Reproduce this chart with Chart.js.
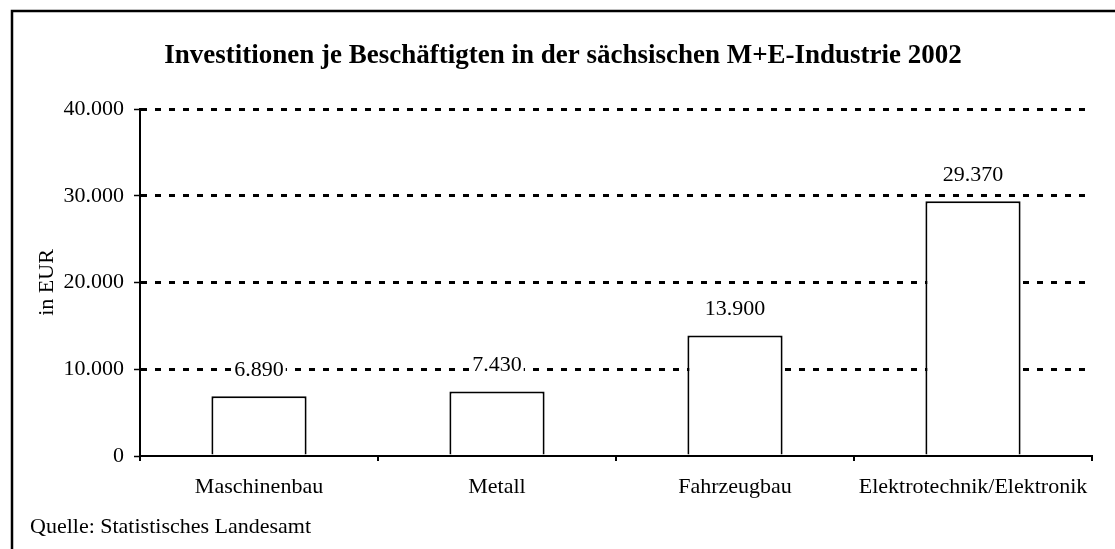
<!DOCTYPE html>
<html>
<head>
<meta charset="utf-8">
<script src="https://cdn.jsdelivr.net/npm/chart.js@4.4.1/dist/chart.umd.min.js"></script>
<style>
  html, body { margin: 0; padding: 0; background: #fff; }
  canvas { display: block; }
</style>
</head>
<body>
<canvas id="invest" width="1115" height="549"></canvas>
<script>
//=============================================== DATA ========================================
var categories = ["Maschinenbau", "Metall", "Fahrzeugbau", "Elektrotechnik/Elektronik"];
var values = [6890, 7430, 13900, 29370];
var yTicks = [0, 10000, 20000, 30000, 40000];
var titleText = "Investitionen je Beschäftigten in der sächsischen M+E-Industrie 2002";
var yAxisTitle = "in EUR";
var sourceText = "Quelle: Statistisches Landesamt";

var serif = "'Liberation Serif', 'Times New Roman', serif";

// 29370 -> "29.370"
function formatNum(n) {
  return String(n).replace(/\B(?=(\d{3})+(?!\d))/g, ".");
}

//=============================================== PLUGINS ========================================
var frame = {
  id: 'frame',
  beforeDraw: function(chart) {
    var ctx = chart.ctx;
    ctx.save();
    ctx.fillStyle = '#fff';
    ctx.fillRect(0, 0, chart.width, chart.height);
    ctx.lineWidth = 2.5;
    ctx.strokeStyle = '#000';
    ctx.strokeRect(12, 11, 1300, 800);
    ctx.restore();
  },
  afterDraw: function(chart) {
    var ctx = chart.ctx;
    ctx.save();
    ctx.fillStyle = '#000';
    ctx.textBaseline = 'middle';
    ctx.textAlign = 'center';
    ctx.font = "bold 27px " + serif;
    ctx.fillText(titleText, 563, 56);
    ctx.textAlign = 'left';
    ctx.font = "22px " + serif;
    ctx.fillText(sourceText, 30, 527);
    ctx.restore();
  }
};

var valueLabels = {
  id: 'valueLabels',
  afterDatasetsDraw: function(chart) {
    var ctx = chart.ctx;
    var meta = chart.getDatasetMeta(0);
    ctx.save();
    ctx.font = "22px " + serif;
    ctx.textAlign = 'center';
    ctx.textBaseline = 'middle';
    meta.data.forEach(function(bar, i) {
      var txt = formatNum(values[i]);
      var w = ctx.measureText(txt).width;
      var y = bar.y - 26;
      ctx.fillStyle = '#fff';
      ctx.fillRect(bar.x - w / 2 - 2, y - 11, w + 4, 22);
      ctx.fillStyle = '#000';
      ctx.fillText(txt, bar.x, y);
    });
    ctx.restore();
  }
};

//=============================================== CHART ========================================
var ctx1 = document.getElementById("invest");
var invest = new Chart(ctx1, {
  type: 'bar',
  data: {
    labels: categories,
    datasets: [{
      label: "Investitionen",
      data: values,
      backgroundColor: "#fff",
      borderColor: "#000",
      borderWidth: 2,
      barPercentage: 0.4,
      categoryPercentage: 1
    }]
  },
  options: {
    responsive: false,
    animation: false,
    devicePixelRatio: 1,
    layout: { padding: { top: 109, left: 30, right: 23, bottom: 43 } },
    plugins: {
      legend: { display: false },
      tooltip: { enabled: false }
    },
    scales: {
      x: {
        afterFit: function(scale) { scale.height = 50; },
        grid: {
          offset: true,
          drawOnChartArea: false,
          color: '#000',
          lineWidth: 2,
          tickLength: 5
        },
        border: { color: '#000', width: 2 },
        ticks: {
          color: '#000',
          padding: 13,
          maxRotation: 0,
          font: { family: serif, size: 22 }
        }
      },
      y: {
        min: 0,
        max: 40000,
        afterFit: function(scale) { scale.width = 110; },
        afterBuildTicks: function(scale) {
          scale.ticks = yTicks.map(function(v) { return { value: v }; });
        },
        grid: {
          color: function(c) { return c.tick && c.tick.value === 0 ? 'rgba(0,0,0,0)' : '#000'; },
          lineWidth: 3,
          tickColor: '#000',
          tickWidth: 1.5,
          tickLength: 6
        },
        border: { color: '#000', width: 2, dash: [6, 8] },
        ticks: {
          color: '#000',
          padding: 10,
          font: { family: serif, size: 22 },
          callback: function(v) { return formatNum(v); }
        },
        title: {
          display: true,
          text: yAxisTitle,
          color: '#000',
          padding: { top: 4, bottom: 0 },
          font: { family: serif, size: 22 }
        }
      }
    }
  },
  plugins: [frame, valueLabels]
});
</script>
</body>
</html>
